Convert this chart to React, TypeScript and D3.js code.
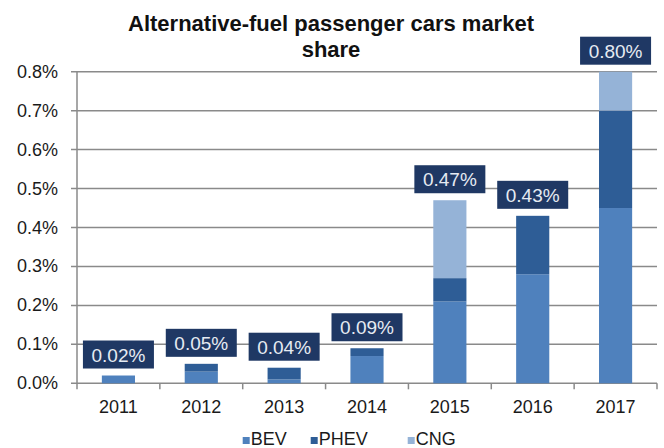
import React from "react";
import * as d3 from "d3";

const years = ["2011", "2012", "2013", "2014", "2015", "2016", "2017"];
const bev = [0.02, 0.03, 0.01, 0.07, 0.21, 0.28, 0.45];
const phev = [0.0, 0.02, 0.03, 0.02, 0.06, 0.15, 0.25];
const cng = [0.0, 0.0, 0.0, 0.0, 0.2, 0.0, 0.1];
const totalLabels = ["0.02%", "0.05%", "0.04%", "0.09%", "0.47%", "0.43%", "0.80%"];
const yTicks = [0, 0.1, 0.2, 0.3, 0.4, 0.5, 0.6, 0.7, 0.8];
const seriesNames = ["BEV", "PHEV", "CNG"];
const colors = ["#4f81bd", "#2e5d96", "#95b3d7"];

const W = 664;
const H = 448;
const left = 77;
const right = 657;
const top = 71.7;
const bottom = 383.3;

export default function App() {
  const x = d3.scaleBand<string>().domain(years).range([left, right]).paddingInner(0.6).paddingOuter(0.3);
  const xOuter = d3.scaleBand<string>().domain(years).range([left, right]);
  const y = d3.scaleLinear().domain([0, 0.8]).range([bottom, top]);

  const rows = years.map((yr, i) => ({ year: yr, BEV: bev[i], PHEV: phev[i], CNG: cng[i] }));
  const stack = d3.stack<any>().keys(seriesNames)(rows);
  const font = "'Liberation Sans', Arial, sans-serif";

  const boundaries = years.map((yr) => xOuter(yr)!).concat([right]);

  return (
    <svg width={W} height={H} style={{ position: "absolute", left: 0, top: 0, background: "#fff" }} fontFamily={font}>
      <rect width={W} height={H} fill="#fff" />
      <text x={331} y={31} textAnchor="middle" fontSize={22} fontWeight="bold" fill="#111">
        Alternative-fuel passenger cars market
      </text>
      <text x={331} y={57} textAnchor="middle" fontSize={22} fontWeight="bold" fill="#111">
        share
      </text>
      {yTicks.map((t) => (
        <g key={t}>
          <line x1={left - 6} x2={right} y1={y(t)} y2={y(t)} stroke="#8a8a8a" strokeWidth={1.5} />
          <text x={58} y={y(t) + 6} textAnchor="end" fontSize={18} fill="#1a1a1a">
            {d3.format(".1%")(t / 100)}
          </text>
        </g>
      ))}
      <line x1={left} x2={left} y1={top} y2={bottom} stroke="#8a8a8a" strokeWidth={1.5} />
      {boundaries.map((b, i) => (
        <line key={i} x1={b} x2={b} y1={bottom} y2={bottom + 6} stroke="#8a8a8a" strokeWidth={1.5} />
      ))}
      {stack.map((s, si) => (
        <g key={s.key} fill={colors[si]}>
          {s.map((d, i) =>
            d[1] - d[0] > 0 ? (
              <rect key={i} x={x(years[i])} width={x.bandwidth()} y={y(d[1])} height={y(d[0]) - y(d[1])} />
            ) : null
          )}
        </g>
      ))}
      {years.map((yr, i) => {
        const total = bev[i] + phev[i] + cng[i];
        const cx = x(yr)! + x.bandwidth() / 2;
        const by = y(total) - 7;
        return (
          <g key={yr}>
            <rect x={cx - 35.5} y={by - 28} width={71} height={28} fill="#1f3864" />
            <text x={cx} y={by - 7} textAnchor="middle" fontSize={19} fill="#e6ebf2">
              {totalLabels[i]}
            </text>
            <text x={cx} y={413} textAnchor="middle" fontSize={18} fill="#1a1a1a">
              {yr}
            </text>
          </g>
        );
      })}
      {(() => {
        const legendX = [242.7, 310.7, 407.7];
        return seriesNames.map((n, i) => (
          <g key={n}>
            <rect x={legendX[i]} y={437} width={7} height={7} fill={colors[i]} />
            <text x={legendX[i] + 8} y={445} fontSize={18} fill="#1a1a1a">
              {n}
            </text>
          </g>
        ));
      })()}
    </svg>
  );
}
